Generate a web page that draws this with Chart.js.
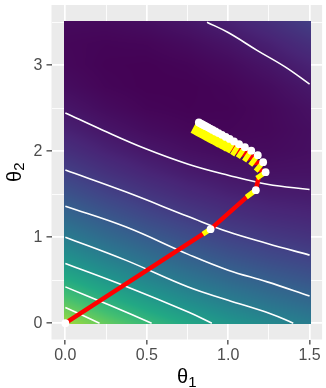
<!DOCTYPE html>
<html><head><meta charset="utf-8">
<script src="https://cdn.jsdelivr.net/npm/chart.js@4/dist/chart.umd.min.js"></script>
<style>html,body{margin:0;padding:0;background:#fff;overflow:hidden}canvas{display:block}</style>
</head><body>
<canvas id="c" width="326" height="388" style="width:326px;height:388px"></canvas>
<script>
// ---------- data ----------
// heat map grid (loss surface values)
const gridT1 = [0, 0.25, 0.5, 0.75, 1.0, 1.25, 1.5];
const gridT2 = [0, 0.25, 0.5, 0.75, 1.0, 1.25, 1.5, 1.75, 2.0, 2.25, 2.5, 2.75, 3.0, 3.25, 3.5];
const loss_t1_000 = [10.24, 8.70, 7.29, 6.00, 4.84, 3.80, 2.89, 2.10, 1.44, 0.90, 0.49, 0.20, 0.04, 0.00, 0.09];
const loss_t1_025 = [9.04, 7.59, 6.27, 5.06, 3.99, 3.04, 2.21, 1.51, 0.93, 0.48, 0.16, -0.05, -0.12, -0.07, 0.10];
const loss_t1_050 = [7.97, 6.61, 5.37, 4.25, 3.26, 2.40, 1.66, 1.04, 0.55, 0.19, -0.06, -0.17, -0.16, -0.03, 0.24];
const loss_t1_075 = [7.02, 5.74, 4.59, 3.56, 2.66, 1.88, 1.22, 0.69, 0.29, 0.01, -0.14, -0.17, -0.07, 0.15, 0.49];
const loss_t1_100 = [6.19, 5.00, 3.93, 2.99, 2.17, 1.48, 0.91, 0.47, 0.15, -0.04, -0.11, -0.05, 0.13, 0.44, 0.87];
const loss_t1_125 = [5.49, 4.39, 3.40, 2.55, 1.82, 1.21, 0.73, 0.37, 0.14, 0.04, 0.05, 0.20, 0.47, 0.86, 1.38];
const loss_t1_150 = [4.91, 3.89, 3.00, 2.23, 1.58, 1.06, 0.67, 0.40, 0.25, 0.23, 0.34, 0.57, 0.92, 1.40, 2.01];
const fillRange = [-0.19, 12.0];

// contour lines [theta1, theta2]
const contourA = [[0.87,3.5],[1.0,3.38],[1.18,3.17],[1.35,2.98],[1.5,2.78]];
const contourB = [[0,2.445],[0.23,2.244],[0.49,2.031],[0.755,1.849],[1.0,1.721],[1.24,1.616],[1.5,1.555]];
const contourC = [[0,1.78],[0.37,1.527],[0.755,1.24],[1.0,1.062],[1.24,0.927],[1.5,0.791]];
const contourD = [[0,1.36],[0.37,1.12],[0.755,0.80],[1.0,0.616],[1.24,0.48],[1.5,0.315]];
const contourE = [[0,1.0],[0.37,0.733],[0.755,0.42],[1.0,0.267],[1.26,0.11],[1.40,0]];
const contourF = [[0,0.694],[0.37,0.43],[0.755,0.13],[0.90,0]];
const contourG = [[0,0.422],[0.27,0.21],[0.53,0]];
const contourH = [[0,0.183],[0.21,0]];

// descent path: iterates (white points) and intermediate points (start of yellow pieces)
const pathT1 = [0, 0.892, 1.170, 1.230, 1.215, 1.182, 1.142, 1.103, 1.067, 1.036, 1.009, 0.985, 0.962, 0.941, 0.922, 0.905, 0.890, 0.876, 0.862, 0.850, 0.839, 0.829, 0.820];
const pathT2 = [0, 1.093, 1.547, 1.756, 1.872, 1.953, 2.006, 2.047, 2.081, 2.114, 2.142, 2.166, 2.190, 2.210, 2.229, 2.247, 2.263, 2.277, 2.291, 2.302, 2.314, 2.324, 2.334];
const midT1 = [0.858, 1.124, 1.188, 1.179, 1.145, 1.107, 1.068, 1.033, 1.003, 0.976, 0.952, 0.929, 0.909, 0.891, 0.874, 0.859, 0.845, 0.832, 0.820, 0.809, 0.799, 0.790];
const midT2 = [1.052, 1.483, 1.703, 1.791, 1.860, 1.909, 1.948, 1.979, 2.012, 2.037, 2.062, 2.084, 2.105, 2.122, 2.140, 2.156, 2.170, 2.184, 2.195, 2.207, 2.218, 2.227];

// ticks
const xMajor = [0, 0.5, 1.0, 1.5];
const xLabels = ['0.0', '0.5', '1.0', '1.5'];
const xMinor = [0.25, 0.75, 1.25];
const yMajor = [0, 1, 2, 3];
const yLabels = ['0', '1', '2', '3'];
const yMinor = [0.5, 1.5, 2.5, 3.5];
const xTitle = ['θ', '1'];
const yTitle = ['θ', '2'];

// ---------- helpers ----------
const lossCols = [loss_t1_000, loss_t1_025, loss_t1_050, loss_t1_075, loss_t1_100, loss_t1_125, loss_t1_150];
const viridisStops = ['#440154','#482576','#414487','#35608D','#2A788E','#21908C','#22A884','#43BF71','#7AD151','#BBDF27','#FDE725']
  .map(h => [parseInt(h.slice(1,3),16), parseInt(h.slice(3,5),16), parseInt(h.slice(5,7),16)]);
function viridis(t) {
  t = Math.max(0, Math.min(1, t));
  const f = t * (viridisStops.length - 1);
  const i = Math.min(viridisStops.length - 2, Math.floor(f));
  const r = f - i, a = viridisStops[i], b = viridisStops[i+1];
  return [a[0]+(b[0]-a[0])*r, a[1]+(b[1]-a[1])*r, a[2]+(b[2]-a[2])*r];
}
function locate(arr, v) {
  const n = arr.length;
  let f = (v - arr[0]) / (arr[n-1] - arr[0]) * (n - 1);
  f = Math.max(0, Math.min(n - 1, f));
  const i = Math.min(n - 2, Math.floor(f));
  return [i, f - i];
}
function lossAt(t1, t2) {
  const [i, fx] = locate(gridT1, t1);
  const [j, fy] = locate(gridT2, t2);
  const a = lossCols[i][j], b = lossCols[i+1][j], c = lossCols[i][j+1], d = lossCols[i+1][j+1];
  return (a*(1-fx) + b*fx) * (1-fy) + (c*(1-fx) + d*fx) * fy;
}
const heatExtent = {x0: -0.009, x1: 1.509, y0: -0.012, y1: 3.512};

const panelPlugin = {
  id: 'panel',
  beforeDraw(chart) {
    const {ctx, chartArea: ca} = chart;
    ctx.save();
    ctx.fillStyle = '#EBEBEB';
    ctx.fillRect(ca.left, ca.top, ca.right - ca.left, ca.bottom - ca.top);
    ctx.restore();
  },
  beforeDatasetsDraw(chart) {
    const {ctx, scales: {x, y}} = chart;
    const px0 = Math.round(x.getPixelForValue(heatExtent.x0));
    const px1 = Math.round(x.getPixelForValue(heatExtent.x1));
    const py0 = Math.round(y.getPixelForValue(heatExtent.y1));
    const py1 = Math.round(y.getPixelForValue(heatExtent.y0));
    const w = px1 - px0, h = py1 - py0;
    const off = document.createElement('canvas');
    off.width = w; off.height = h;
    const octx = off.getContext('2d');
    const img = octx.createImageData(w, h);
    for (let r = 0; r < h; r++) {
      const t2 = y.getValueForPixel(py0 + r + 0.5);
      for (let c = 0; c < w; c++) {
        const t1 = x.getValueForPixel(px0 + c + 0.5);
        const v = lossAt(t1, t2);
        const col = viridis((v - fillRange[0]) / (fillRange[1] - fillRange[0]));
        const k = (r * w + c) * 4;
        img.data[k] = col[0]; img.data[k+1] = col[1]; img.data[k+2] = col[2]; img.data[k+3] = 255;
      }
    }
    octx.putImageData(img, 0, 0);
    ctx.drawImage(off, px0, py0);
  },
  afterDraw(chart) {
    const {ctx, chartArea: ca} = chart;
    const big = '20px "Liberation Sans", Arial, sans-serif';
    const small = '15px "Liberation Sans", Arial, sans-serif';
    function drawTitle(parts, cx, base) {
      ctx.font = big; const w1 = ctx.measureText(parts[0]).width;
      ctx.font = small; const w2 = ctx.measureText(parts[1]).width;
      const x0 = cx - (w1 + w2) / 2;
      ctx.font = big; ctx.fillText(parts[0], x0, base);
      ctx.font = small; ctx.fillText(parts[1], x0 + w1, base + 3.4);
    }
    ctx.save();
    ctx.fillStyle = '#000000';
    ctx.textBaseline = 'alphabetic';
    ctx.textAlign = 'left';
    drawTitle(xTitle, (ca.left + ca.right) / 2, 383.3);
    ctx.translate(20.5, (ca.top + ca.bottom) / 2);
    ctx.rotate(-Math.PI / 2);
    drawTitle(yTitle, 0, 0);
    ctx.restore();
  }
};

const toXY = arr => arr.map(p => ({x: p[0], y: p[1]}));
const gap = {x: null, y: null};
const pointsData = pathT1.map((v, i) => ({x: v, y: pathT2[i]}));
const redData = [];
const yellowData = [];
for (let i = 1; i < pathT1.length; i++) {
  redData.push({x: pathT1[i-1], y: pathT2[i-1]}, {x: midT1[i-1], y: midT2[i-1]}, gap);
  yellowData.push({x: midT1[i-1], y: midT2[i-1]}, {x: pathT1[i], y: pathT2[i]}, gap);
}
const contourSets = [contourA, contourB, contourC, contourD, contourE, contourF, contourG, contourH].map(c => ({
  type: 'line', data: toXY(c), borderColor: '#FFFFFF', borderWidth: 1.6, pointRadius: 0,
  tension: 0.4, fill: false, order: 4
}));

const tickFont = {family: '"Liberation Sans", Arial, sans-serif', size: 16};
const xAll = xMajor.concat(xMinor).sort((a, b) => a - b);
const yAll = yMajor.concat(yMinor).sort((a, b) => a - b);
const isMajor = (arr, v) => arr.some(m => Math.abs(m - v) < 1e-9);

new Chart(document.getElementById('c'), {
  type: 'scatter',
  data: {
    datasets: [
      {type: 'scatter', data: pointsData, pointRadius: 3.9, pointBackgroundColor: '#FFFFFF', pointBorderWidth: 0, pointHoverRadius: 3.9, order: 0},
      {type: 'line', data: yellowData, borderColor: '#FFFF00', borderWidth: 5, pointRadius: 0, spanGaps: false, tension: 0, borderCapStyle: 'square', fill: false, order: 1},
      {type: 'line', data: redData, borderColor: '#FF0000', borderWidth: 4.5, pointRadius: 0, spanGaps: false, tension: 0, borderCapStyle: 'butt', fill: false, order: 2},
      ...contourSets
    ]
  },
  options: {
    responsive: false,
    animation: false,
    events: [],
    layout: {padding: {top: 5, left: 0, right: 0, bottom: 0}},
    plugins: {legend: {display: false}, tooltip: {enabled: false}},
    scales: {
      x: {
        type: 'linear', min: -0.085, max: 1.577,
        afterBuildTicks: s => { s.ticks = xAll.map(v => ({value: v})); },
        afterFit: s => { s.height = 48.5; s.paddingLeft = 0; s.paddingRight = 0; s.paddingTop = 0; s.paddingBottom = 0; },
        border: {display: false},
        grid: {
          color: '#FFFFFF',
          lineWidth: c => isMajor(xMajor, c.tick.value) ? 1.7 : 0.85,
          tickColor: c => isMajor(xMajor, c.tick.value) ? '#333333' : 'rgba(0,0,0,0)',
          tickWidth: 1.2, tickLength: 5, drawTicks: true
        },
        ticks: {
          autoSkip: false, maxRotation: 0, minRotation: 0, padding: 1,
          color: '#4D4D4D', font: tickFont,
          callback: v => { const i = xMajor.findIndex(m => Math.abs(m - v) < 1e-9); return i >= 0 ? xLabels[i] : ''; }
        }
      },
      y: {
        type: 'linear', min: -0.19, max: 3.7,
        afterBuildTicks: s => { s.ticks = yAll.map(v => ({value: v})); },
        afterFit: s => { s.width = 51.5; s.paddingLeft = 0; s.paddingRight = 0; s.paddingTop = 0; s.paddingBottom = 0; },
        border: {display: false},
        grid: {
          color: '#FFFFFF',
          lineWidth: c => isMajor(yMajor, c.tick.value) ? 1.7 : 0.85,
          tickColor: c => isMajor(yMajor, c.tick.value) ? '#333333' : 'rgba(0,0,0,0)',
          tickWidth: 1.2, tickLength: 5, drawTicks: true
        },
        ticks: {
          autoSkip: false, padding: 4.2,
          color: '#4D4D4D', font: tickFont,
          callback: v => { const i = yMajor.findIndex(m => Math.abs(m - v) < 1e-9); return i >= 0 ? yLabels[i] : ''; }
        }
      }
    }
  },
  plugins: [panelPlugin]
});
</script>
</body></html>
